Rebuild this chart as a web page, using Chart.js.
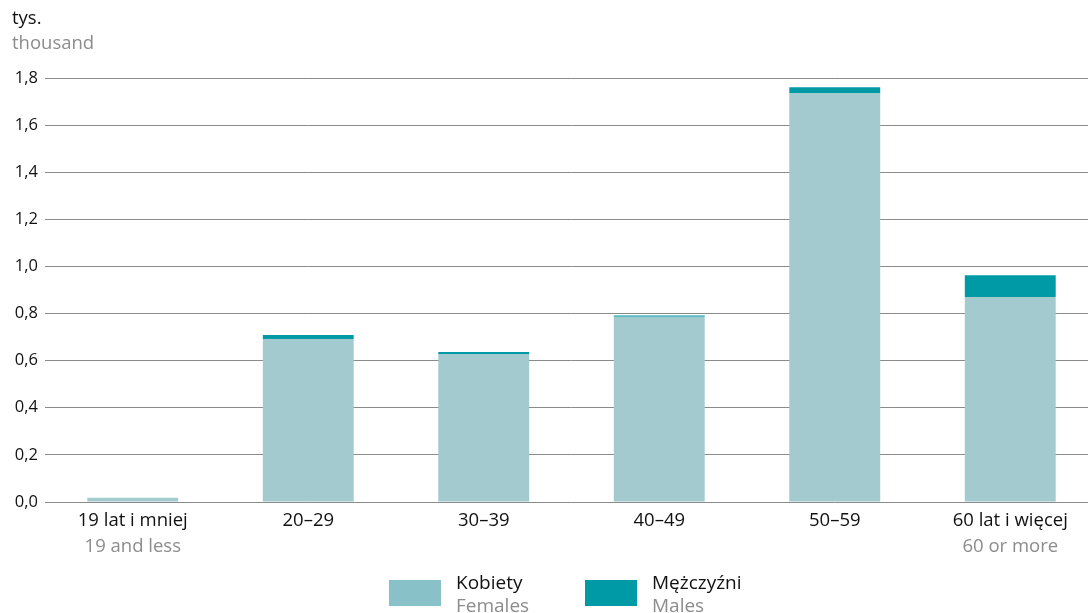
<!DOCTYPE html>
<html lang="pl">
<head>
<meta charset="utf-8">
<script src="https://cdn.jsdelivr.net/npm/chart.js@4.4.1/dist/chart.umd.min.js"></script>
<style>
  html, body { margin: 0; padding: 0; background: #fff; }
  #wrap { position: relative; width: 1088px; height: 613px; overflow: hidden; font-family: "Open Sans", sans-serif; }
  #chart { position: absolute; left: 0; top: 0; }
  .unit { position: absolute; left: 12px; font-size: 18.5px; line-height: 24px; }
  .legend { position: absolute; top: 571px; display: flex; align-items: flex-start; }
  .legend .sw { width: 52px; height: 26px; margin-top: 9px; margin-right: 15px; }
  .legend .t { font-size: 19px; line-height: 23px; color: #111; }
  .legend .t span { display: block; color: #8c8c8c; }
</style>
</head>
<body>
<div id="wrap">
  <canvas id="chart" width="1098" height="613"></canvas>
  <div class="unit" style="top:5px;color:#111">tys.</div>
  <div class="unit" style="top:30px;color:#8c8c8c">thousand</div>
  <div class="legend" style="left:389px">
    <div class="sw" style="background:#89c1c8"></div>
    <div class="t">Kobiety<span>Females</span></div>
  </div>
  <div class="legend" style="left:585px">
    <div class="sw" style="background:#009aa6"></div>
    <div class="t">Mężczyźni<span>Males</span></div>
  </div>
</div>
<script>
// Age groups (Polish / English)
const agesPl = ['19 lat i mniej', '20–29', '30–39', '40–49', '50–59', '60 lat i więcej'];
const agesEn = ['19 and less', '', '', '', '', '60 or more'];
// Values in thousands
const females = [0.018, 0.692, 0.628, 0.786, 1.736, 0.870];
const males   = [0.000, 0.017, 0.009, 0.006, 0.025, 0.093];
const yTicks = [0, 0.2, 0.4, 0.6, 0.8, 1.0, 1.2, 1.4, 1.6, 1.8];

const FONT = '"Open Sans", sans-serif';

// Second (English) line of each category label, drawn in grey under the Polish one
const englishLabels = {
  id: 'englishLabels',
  afterDraw(chart) {
    const x = chart.scales.x;
    const ctx = chart.ctx;
    ctx.save();
    ctx.font = '18.5px ' + FONT;
    ctx.fillStyle = '#8c8c8c';
    ctx.textAlign = 'center';
    ctx.textBaseline = 'middle';
    agesEn.forEach((t, i) => {
      if (t) ctx.fillText(t, x.getPixelForTick(i), x.top + 45);
    });
    ctx.restore();
  }
};

new Chart(document.getElementById('chart'), {
  type: 'bar',
  data: {
    labels: agesPl,
    datasets: [
      { label: 'Kobiety', data: females, backgroundColor: '#a2cacf', stack: 's', barPercentage: 0.518, categoryPercentage: 1 },
      { label: 'Mężczyźni', data: males, backgroundColor: '#009aa6', stack: 's', barPercentage: 0.518, categoryPercentage: 1 }
    ]
  },
  options: {
    responsive: false,
    animation: false,
    layout: { padding: { top: 78, right: 0, left: 0, bottom: 0 } },
    plugins: { legend: { display: false }, tooltip: { enabled: false } },
    scales: {
      x: {
        stacked: true,
        grid: { display: false, drawTicks: false },
        border: { display: false },
        ticks: { color: '#111', font: { family: FONT, size: 18.5 }, padding: 8, maxRotation: 0 },
        afterFit(s) { s.height = 111; }
      },
      y: {
        stacked: true,
        min: 0, max: 1.8,
        afterBuildTicks(s) { s.ticks = yTicks.map(v => ({ value: v })); },
        grid: { color: '#8a8a8a', lineWidth: 1, drawTicks: false },
        border: { display: false },
        ticks: {
          color: '#111', font: { family: FONT, size: 16.5 }, padding: 7,
          callback: v => v.toFixed(1).replace('.', ',')
        },
        afterFit(s) { s.width = 45; }
      }
    }
  },
  plugins: [englishLabels]
});
</script>
</body>
</html>
